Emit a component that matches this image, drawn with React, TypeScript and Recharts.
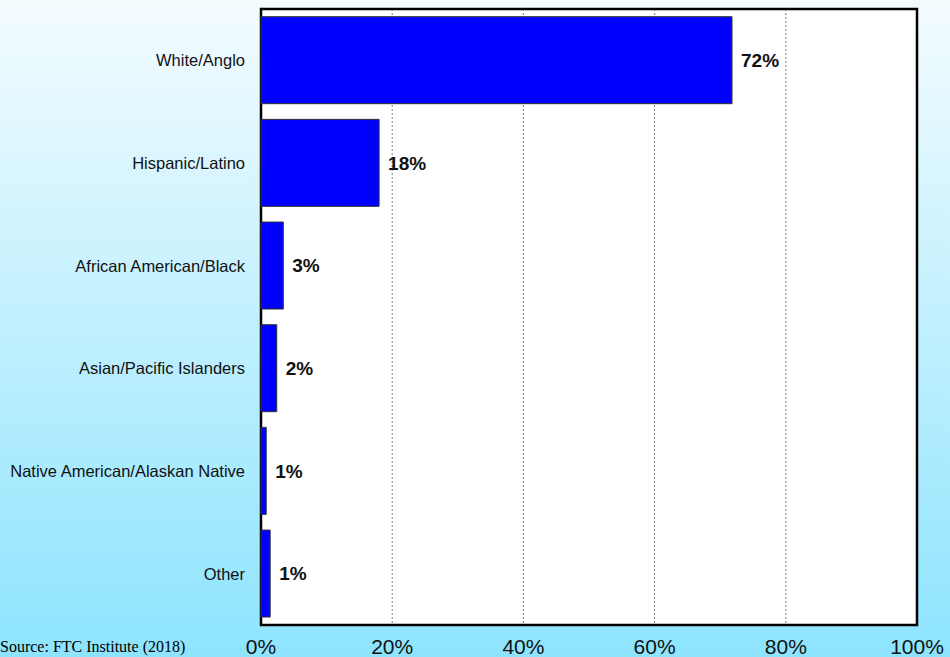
import React from 'react';
import { BarChart, Bar, XAxis, YAxis, CartesianGrid, LabelList, ReferenceArea } from 'recharts';

const categories = [
  'White/Anglo',
  'Hispanic/Latino',
  'African American/Black',
  'Asian/Pacific Islanders',
  'Native American/Alaskan Native',
  'Other',
];
const shares = [71.8, 18, 3.4, 2.4, 0.8, 1.4];
const shareLabels = ['72%', '18%', '3%', '2%', '1%', '1%'];
const xTicks = [0, 20, 40, 60, 80, 100];

const data = categories.map((name, i) => ({ name, value: shares[i], label: shareLabels[i] }));

const FONT = '"Liberation Sans", Arial, sans-serif';

export default function App() {
  return (
    <div
      style={{
        position: 'absolute',
        left: 0,
        top: 0,
        width: 950,
        height: 657,
        overflow: 'hidden',
        background: 'linear-gradient(to bottom, #F4FCFF 0%, #8DE4FE 100%)',
      }}
    >
      <style>{'body{margin:0}'}</style>
      <BarChart
        width={950}
        height={657}
        data={data}
        layout="vertical"
        margin={{ top: 9, right: 33, bottom: 0, left: 0 }}
        barCategoryGap="7.5%"
      >
        <CartesianGrid
          horizontal={false}
          vertical={true}
          fill="#ffffff"
          stroke="#808080"
          strokeDasharray="2 2"
        />
        <XAxis
          type="number"
          domain={[0, 100]}
          ticks={xTicks}
          tickFormatter={(v: number) => `${v}%`}
          axisLine={false}
          tickLine={false}
          tickSize={0}
          tickMargin={14}
          height={32}
          interval={0}
          tick={{ fontSize: 21, fill: '#111', fontFamily: FONT }}
        />
        <YAxis
          type="category"
          dataKey="name"
          width={261}
          axisLine={false}
          tickLine={false}
          tickSize={0}
          tickMargin={16}
          interval={0}
          tick={{ fontSize: 16.5, fill: '#111', fontFamily: FONT }}
        />
        <Bar dataKey="value" fill="#0000FF" stroke="#333333" strokeWidth={1} isAnimationActive={false}>
          <LabelList
            dataKey="label"
            position="right"
            offset={9}
            style={{ fontSize: 19, fontWeight: 'bold', fill: '#111', fontFamily: FONT }}
          />
        </Bar>
        <ReferenceArea x1={0} x2={100} fill="none" fillOpacity={0} stroke="#000" strokeWidth={2.5} ifOverflow="visible" />
      </BarChart>
      <svg width={950} height={657} style={{ position: 'absolute', left: 0, top: 0, pointerEvents: 'none' }}>
        <text x={0} y={652} fontSize={16} fontFamily='"Liberation Serif", "Times New Roman", serif' fill="#000">
          Source: FTC Institute (2018)
        </text>
      </svg>
    </div>
  );
}
